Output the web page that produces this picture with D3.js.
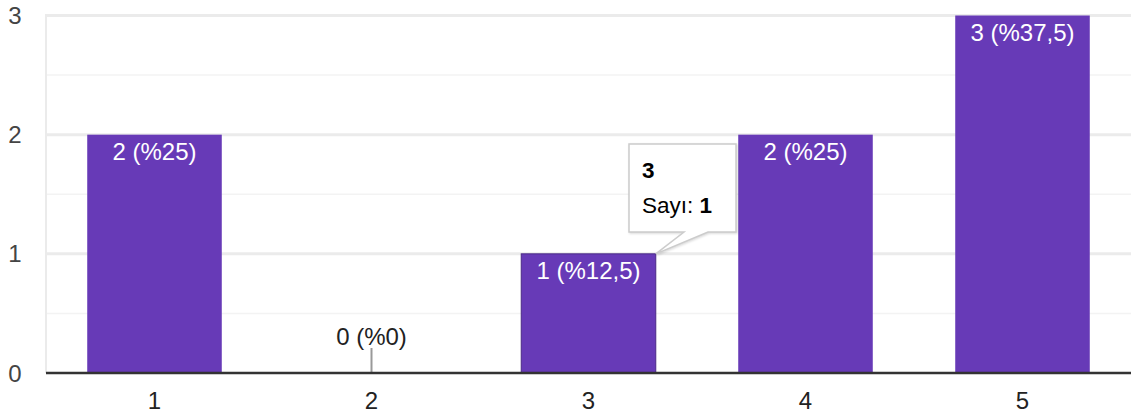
<!DOCTYPE html>
<html><head><meta charset="utf-8">
<script src="https://cdn.jsdelivr.net/npm/d3@7"></script>
<style>
html,body{margin:0;padding:0;background:#fff;}
svg{display:block;font-family:"Liberation Sans",Arial,sans-serif;}
</style></head>
<body>
<svg id="chart" width="1131" height="416"></svg>
<script>
const categories = ["1","2","3","4","5"];
const counts = [2,0,1,2,3];
const labels = ["2 (%25)","0 (%0)","1 (%12,5)","2 (%25)","3 (%37,5)"];
const yTicks = [0,1,2,3];
const yMinor = [0.5,1.5,2.5];
const tooltipTitle = "3";
const tooltipLabel = "Sayı: ";
const tooltipValue = "1";
const tooltipIndex = 2;

(function(){
const svg = d3.select("#chart");
const mLeft = 46, mRight = 1131, mTop = 15.5, mBottom = 373;
const x = d3.scaleBand().domain(categories).range([mLeft, mRight]).paddingInner(0.38).paddingOuter(0.19);
const y = d3.scaleLinear().domain([0,3]).range([mBottom, mTop]);

// gridlines
svg.append("g").selectAll("line").data(yMinor).join("line")
  .attr("x1", mLeft).attr("x2", mRight).attr("y1", d=>y(d)).attr("y2", d=>y(d))
  .attr("stroke", "#f3f3f3").attr("stroke-width", 1.5);
svg.append("g").selectAll("line").data(yTicks.filter(d=>d>0)).join("line")
  .attr("x1", mLeft).attr("x2", mRight).attr("y1", d=>y(d)).attr("y2", d=>y(d))
  .attr("stroke", "#ebebeb").attr("stroke-width", 3);
svg.append("line").attr("x1", mLeft).attr("x2", mLeft).attr("y1", y(3)-1.5).attr("y2", mBottom)
  .attr("stroke", "#ebebeb").attr("stroke-width", 2);

// bars
svg.append("g").selectAll("rect").data(counts).join("rect")
  .attr("x", (d,i)=>x(categories[i])).attr("width", x.bandwidth())
  .attr("y", d=>y(d)).attr("height", d=>mBottom - y(d))
  .attr("fill", "#673ab7")
  .attr("stroke", (d,i)=> i===tooltipIndex ? "#4a2a85" : "none")
  .attr("stroke-width", 1);

// bar labels
counts.forEach((d,i)=>{
  const cx = x(categories[i]) + x.bandwidth()/2;
  if (d > 0) {
    svg.append("text").attr("x", cx).attr("y", y(d) + 25)
      .attr("text-anchor","middle").attr("fill","#fff").attr("font-size", 24).text(labels[i]);
  } else {
    svg.append("line").attr("x1", cx).attr("x2", cx).attr("y1", mBottom-25).attr("y2", mBottom)
      .attr("stroke","#999").attr("stroke-width",2);
    svg.append("text").attr("x", cx).attr("y", mBottom - 28)
      .attr("text-anchor","middle").attr("fill","#222").attr("font-size", 24).text(labels[i]);
  }
});

// baseline
svg.append("line").attr("x1", mLeft).attr("x2", mRight).attr("y1", mBottom).attr("y2", mBottom)
  .attr("stroke","#333").attr("stroke-width",2.5);

// y axis labels
svg.append("g").selectAll("text").data(yTicks).join("text")
  .attr("x", 15).attr("y", d=>y(d)+8.5).attr("text-anchor","middle")
  .attr("fill","#444").attr("font-size",24).text(d=>d);

// x axis labels
svg.append("g").selectAll("text").data(categories).join("text")
  .attr("x", d=>x(d)+x.bandwidth()/2).attr("y", 409).attr("text-anchor","middle")
  .attr("fill","#222").attr("font-size",24).text(d=>d);

// tooltip
const tb = x(categories[tooltipIndex]) + x.bandwidth();
const ty = y(counts[tooltipIndex]);
const bx = 629, by = 144, bw = 107, bh = 88;
const g = svg.append("g");
g.append("path")
  .attr("d", `M${bx},${by} H${bx+bw} V${by+bh} H${bx+bw-28} L${tb},${ty} L${bx+bw-52},${by+bh} H${bx} Z`)
  .attr("fill","#fff").attr("stroke","#ccc").attr("stroke-width",1.5)
  .style("filter","drop-shadow(1px 1px 1px rgba(0,0,0,0.15))");
g.append("text").attr("x", bx+13).attr("y", by+34).attr("font-size",22.5).attr("font-weight","bold").attr("fill","#000").text(tooltipTitle);
const t2 = g.append("text").attr("x", bx+13).attr("y", by+69).attr("font-size",22.5).attr("fill","#000");
t2.append("tspan").text(tooltipLabel);
t2.append("tspan").attr("font-weight","bold").text(tooltipValue);
})();
</script>
</body></html>
